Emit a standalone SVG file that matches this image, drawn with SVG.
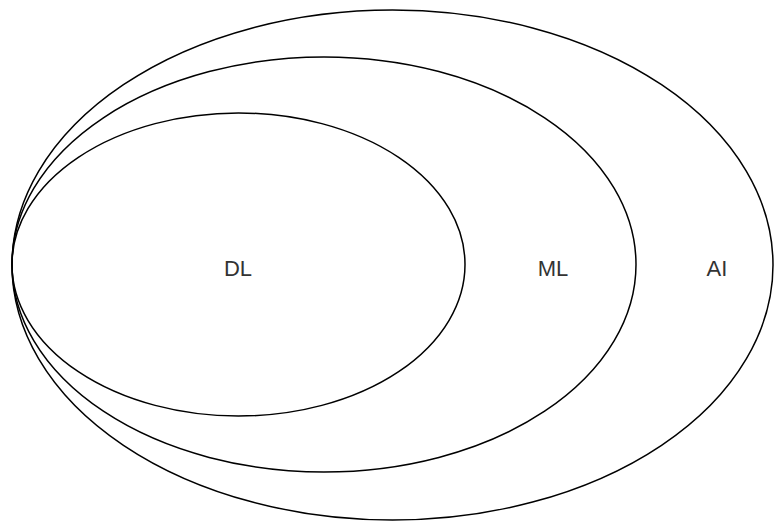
<svg xmlns="http://www.w3.org/2000/svg" width="774" height="525" viewBox="0 0 774 525">
<style>
.e{fill:none;stroke:#000;stroke-width:1.5}
.t{font-family:"Liberation Sans",Arial,sans-serif;font-size:22px;fill:#333;text-anchor:middle}
</style>
<rect width="774" height="525" fill="#fff"/>
<g id="AI"><ellipse class="e" cx="392.5" cy="265" rx="380.5" ry="255"/><text class="t" x="717" y="276">AI</text></g>
<g id="ML"><ellipse class="e" cx="324" cy="264.5" rx="312" ry="207.5"/><text class="t" x="553" y="276">ML</text></g>
<g id="DL"><ellipse class="e" cx="238.5" cy="264.5" rx="226.5" ry="151.5"/><text class="t" x="238" y="276">DL</text></g>
<g id="connectors"/>
</svg>
